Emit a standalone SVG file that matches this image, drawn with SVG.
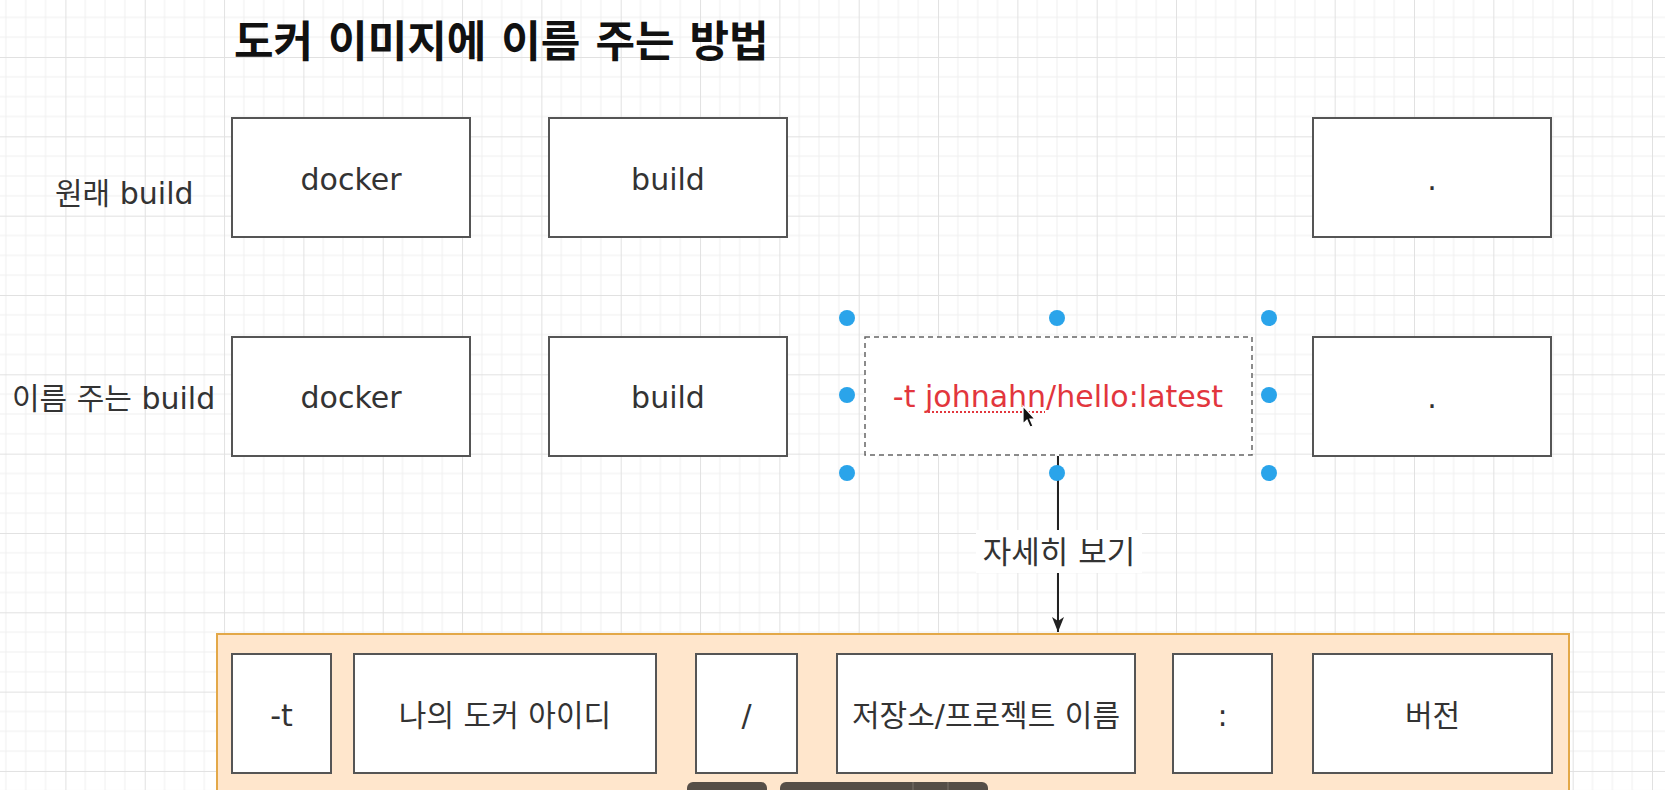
<svg xmlns="http://www.w3.org/2000/svg" width="1665" height="790" viewBox="0 0 1665 790">
<defs>
<style>
.t{font-family:"DejaVu Sans","Noto Sans CJK KR",sans-serif;font-size:30px;fill:#333;text-anchor:middle}
.lbl{font-family:"DejaVu Sans","Noto Sans CJK KR",sans-serif;font-size:30px;fill:#333}
.box{fill:#fff;stroke:#555;stroke-width:2}
.h{fill:#2aa4ea}
</style>
<pattern id="grid" patternUnits="userSpaceOnUse" x="65.4" y="57" width="79.33" height="79.33">
<path d="M19.83 0V79.33M39.67 0V79.33M59.5 0V79.33M0 19.83H79.33M0 39.67H79.33M0 59.5H79.33" stroke="#efefef" stroke-width="1" fill="none"/>
<path d="M0.5 0V79.33M0 0.5H79.33" stroke="#e1e1e1" stroke-width="1" fill="none"/>
</pattern>
<marker id="arrow" markerWidth="16" markerHeight="14" refX="15" refY="6" orient="auto" markerUnits="userSpaceOnUse">
<path d="M0,0 L15,6 L0,12 L4,6 Z" fill="#222"/>
</marker>
</defs>
<rect width="1665" height="790" fill="#fff"/>
<rect width="1665" height="790" fill="url(#grid)"/>

<text x="234" y="57" style="font-family:'DejaVu Sans','Noto Sans CJK KR',sans-serif;font-size:43px;font-weight:bold;fill:#111">도커 이미지에 이름 주는 방법</text>

<g id="label-original"><text class="lbl" x="55" y="204">원래 build</text></g>
<g id="label-named"><text class="lbl" x="12" y="409">이름 주는 build</text></g>

<g id="n-docker1"><rect class="box" x="232" y="118" width="238" height="119"/><text class="t" x="351" y="190">docker</text></g>
<g id="n-build1"><rect class="box" x="549" y="118" width="238" height="119"/><text class="t" x="668" y="190">build</text></g>
<g id="n-dot1"><rect class="box" x="1313" y="118" width="238" height="119"/><text class="t" x="1432" y="190">.</text></g>

<g id="n-docker2"><rect class="box" x="232" y="337" width="238" height="119"/><text class="t" x="351" y="408">docker</text></g>
<g id="n-build2"><rect class="box" x="549" y="337" width="238" height="119"/><text class="t" x="668" y="408">build</text></g>
<g id="n-tag"><rect x="865" y="337" width="387" height="118" fill="#fff" stroke="#666" stroke-width="1.5" stroke-dasharray="5,4"/><text class="t" x="1058" y="407" style="fill:#e2363d">-t johnahn/hello:latest</text>
<line x1="928" y1="412" x2="1045" y2="412" stroke="#e2363d" stroke-width="2" stroke-dasharray="2,2"/></g>
<g id="n-dot2"><rect class="box" x="1313" y="337" width="238" height="119"/><text class="t" x="1432" y="408">.</text></g>

<g id="container"><rect x="217" y="634" width="1352" height="180" fill="#ffe6cc" stroke="#e3a848" stroke-width="2"/></g>
<g id="n-t"><rect class="box" x="232" y="654" width="99" height="119"/><text class="t" x="281.5" y="726">-t</text></g>
<g id="n-id"><rect class="box" x="354" y="654" width="302" height="119"/><text class="t" x="505" y="726">나의 도커 아이디</text></g>
<g id="n-slash"><rect class="box" x="696" y="654" width="101" height="119"/><text class="t" x="746.5" y="726">/</text></g>
<g id="n-repo"><rect class="box" x="837" y="654" width="298" height="119"/><text class="t" x="986" y="726">저장소/프로젝트 이름</text></g>
<g id="n-colon"><rect class="box" x="1173" y="654" width="99" height="119"/><text class="t" x="1222.5" y="726">:</text></g>
<g id="n-ver"><rect class="box" x="1313" y="654" width="239" height="119"/><text class="t" x="1432.5" y="726">버전</text></g>

<g id="connectors">
<line x1="1058" y1="456" x2="1058" y2="632" stroke="#222" stroke-width="2" marker-end="url(#arrow)"/>
<rect x="976" y="530" width="166" height="43" fill="#fff"/>
<text class="t" x="1059" y="563" style="font-size:31px">자세히 보기</text>
</g>

<g id="handles">
<circle class="h" cx="847" cy="318" r="8"/><circle class="h" cx="1057" cy="318" r="8"/><circle class="h" cx="1269" cy="318" r="8"/>
<circle class="h" cx="847" cy="395" r="8"/><circle class="h" cx="1269" cy="395" r="8"/>
<circle class="h" cx="847" cy="473" r="8"/><circle class="h" cx="1057" cy="473" r="8"/><circle class="h" cx="1269" cy="473" r="8"/>
</g>

<path d="M1023,406 L1023,424 L1027,420 L1030,427 L1033,426 L1030,419 L1035,419 Z" fill="#111" stroke="#fff" stroke-width="1.2"/>

<g id="overlay">
<rect x="687" y="782" width="80" height="20" rx="6" fill="#564e47"/>
<rect x="780" y="782" width="208" height="20" rx="6" fill="#564e47"/>
<line x1="913" y1="782" x2="913" y2="790" stroke="#7a726b" stroke-width="1"/>
<line x1="948" y1="782" x2="948" y2="790" stroke="#7a726b" stroke-width="1"/>
</g>
</svg>
